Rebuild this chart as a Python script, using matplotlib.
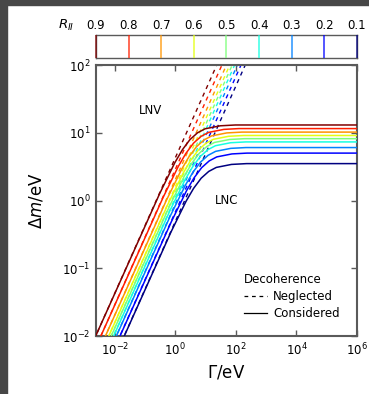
import matplotlib
matplotlib.use("Agg")
import matplotlib.pyplot as plt
import numpy as np
from matplotlib.lines import Line2D
from matplotlib.patches import Rectangle
from matplotlib.ticker import NullLocator

plt.rcParams['font.family'] = ['DejaVu Sans']
plt.rcParams['mathtext.fontset'] = 'dejavusans'

# R_II values, one curve each (top curve = 0.9)
r_values = [0.9, 0.8, 0.7, 0.6, 0.5, 0.4, 0.3, 0.2, 0.1]

# decoherence considered: log10(Gamma/eV) and log10(dm/eV)
cons_log_gamma = [
    [-2.8, -0.515, -0.015, 0.235, 0.485, 0.735, 0.985, 1.485, 1.985, 6.2],
    [-2.8, -0.398, 0.102, 0.352, 0.602, 0.852, 1.102, 1.602, 2.102, 6.2],
    [-2.8, -0.30, 0.20, 0.45, 0.70, 0.95, 1.20, 1.70, 2.20, 6.2],
    [-2.8, -0.24, 0.26, 0.51, 0.76, 1.01, 1.26, 1.76, 2.26, 6.2],
    [-2.8, -0.207, 0.293, 0.543, 0.793, 1.043, 1.293, 1.793, 2.293, 6.2],
    [-2.8, -0.175, 0.325, 0.575, 0.825, 1.075, 1.325, 1.825, 2.325, 6.2],
    [-2.8, -0.168, 0.332, 0.582, 0.832, 1.082, 1.332, 1.832, 2.332, 6.2],
    [-2.8, -0.13, 0.37, 0.62, 0.87, 1.12, 1.37, 1.87, 2.37, 6.2],
    [-2.8, -0.145, 0.355, 0.605, 0.855, 1.105, 1.355, 1.855, 2.355, 6.2],
]
cons_log_dm = [
    [-2.17, 0.103, 0.559, 0.75, 0.90, 1.00, 1.059, 1.103, 1.115, 1.115],
    [-2.34, 0.05, 0.506, 0.697, 0.847, 0.947, 1.006, 1.05, 1.062, 1.062],
    [-2.49, -0.002, 0.454, 0.645, 0.795, 0.895, 0.954, 0.998, 1.01, 1.01],
    [-2.60, -0.052, 0.404, 0.595, 0.745, 0.845, 0.904, 0.948, 0.96, 0.96],
    [-2.68, -0.099, 0.357, 0.548, 0.698, 0.798, 0.857, 0.901, 0.913, 0.913],
    [-2.76, -0.147, 0.309, 0.50, 0.65, 0.75, 0.809, 0.853, 0.865, 0.865],
    [-2.85, -0.23, 0.226, 0.417, 0.567, 0.667, 0.726, 0.77, 0.782, 0.782],
    [-2.97, -0.312, 0.144, 0.335, 0.485, 0.585, 0.644, 0.688, 0.70, 0.70],
    [-3.11, -0.467, -0.011, 0.18, 0.33, 0.43, 0.489, 0.533, 0.545, 0.545],
]

# decoherence neglected: straight lines, start / end points
negl_log_gamma = [
    [-2.8, 1.57], [-2.8, 1.74], [-2.8, 1.89], [-2.8, 2.0], [-2.8, 2.08],
    [-2.8, 2.16], [-2.8, 2.25], [-2.8, 2.37], [-2.8, 2.51],
]
negl_log_dm = [
    [-2.17, 2.2], [-2.34, 2.2], [-2.49, 2.2], [-2.60, 2.2], [-2.68, 2.2],
    [-2.76, 2.2], [-2.85, 2.2], [-2.97, 2.2], [-3.11, 2.2],
]

x_ticks = [1e-2, 1e0, 1e2, 1e4, 1e6]
y_ticks = [1e-2, 1e-1, 1e0, 1e1, 1e2]

colors = plt.cm.jet(np.linspace(1, 0, len(r_values)))
spine_col = '#5a5a5a'

fig = plt.figure(figsize=(3.69, 3.94), dpi=100)
ax = fig.add_axes([0.260, 0.147, 0.7075, 0.688])
cax = fig.add_axes([0.260, 0.854, 0.7075, 0.057])

for i, r in enumerate(r_values):
    ax.plot(10 ** np.array(negl_log_gamma[i]), 10 ** np.array(negl_log_dm[i]),
            color=colors[i], lw=1.0, ls=(0, (3, 3)), zorder=2)
for i, r in enumerate(r_values):
    ax.plot(10 ** np.array(cons_log_gamma[i]), 10 ** np.array(cons_log_dm[i]),
            color=colors[i], lw=1.1, zorder=3)

ax.set_xscale('log')
ax.set_yscale('log')
ax.set_xlim(10 ** -2.62, 1e6)
ax.set_ylim(1e-2, 1e2)
ax.set_xticks(x_ticks)
ax.set_yticks(y_ticks)
ax.xaxis.set_minor_locator(NullLocator())
ax.yaxis.set_minor_locator(NullLocator())
ax.tick_params(direction='in', top=True, right=True, length=4, width=1,
               color=spine_col, labelsize=8.5, pad=4)
for s in ax.spines.values():
    s.set_color(spine_col)
    s.set_linewidth(1.5)

ax.set_xlabel(r'$\mathit{\Gamma}/$eV', fontsize=12, labelpad=4)
ax.set_ylabel(r'$\mathit{\Delta m}/$eV', fontsize=12, labelpad=12)

ax.text(10 ** -0.83, 10 ** 1.33, 'LNV', fontsize=8.5, ha='center', va='center')
ax.text(10 ** 1.7, 10 ** 0.0, 'LNC', fontsize=8.5, ha='center', va='center')

handles = [Line2D([], [], color='black', lw=0.9, ls=(0, (3, 3))),
           Line2D([], [], color='black', lw=0.9)]
leg = ax.legend(handles, ['Neglected', 'Considered'], title='Decoherence',
                loc='lower right', bbox_to_anchor=(0.975, 0.02), frameon=False,
                fontsize=8.5, title_fontsize=8.5, handlelength=2.0,
                handletextpad=0.5, labelspacing=0.35, alignment='left')

# colour key strip
cax.vlines(r_values, 0, 1, colors=colors, lw=1.1, alpha=0.85, zorder=3, clip_on=False)
cax.set_xlim(0.9, 0.1)
cax.set_ylim(0, 1)
cax.set_yticks([])
cax.set_xticks(r_values)
cax.set_xticklabels([f'{r:.1f}' for r in r_values])
cax.tick_params(axis='x', top=True, bottom=False, labeltop=True, labelbottom=False,
                length=0, labelsize=8.5, pad=2)
for s in cax.spines.values():
    s.set_color(spine_col)
    s.set_linewidth(1.0)
cax.text(-0.115, 1.42, r'$R_{II}$', transform=cax.transAxes, fontsize=9.5,
         ha='center', va='center')

# dark screenshot border on top / left
fig.patches.append(Rectangle((0, 1 - 5 / 394), 1, 5 / 394, transform=fig.transFigure,
                             color='#474747', zorder=-1))
fig.patches.append(Rectangle((0, 0), 7 / 369, 1, transform=fig.transFigure,
                             color='#474747', zorder=-1))

fig.savefig('out.png', dpi=100)
